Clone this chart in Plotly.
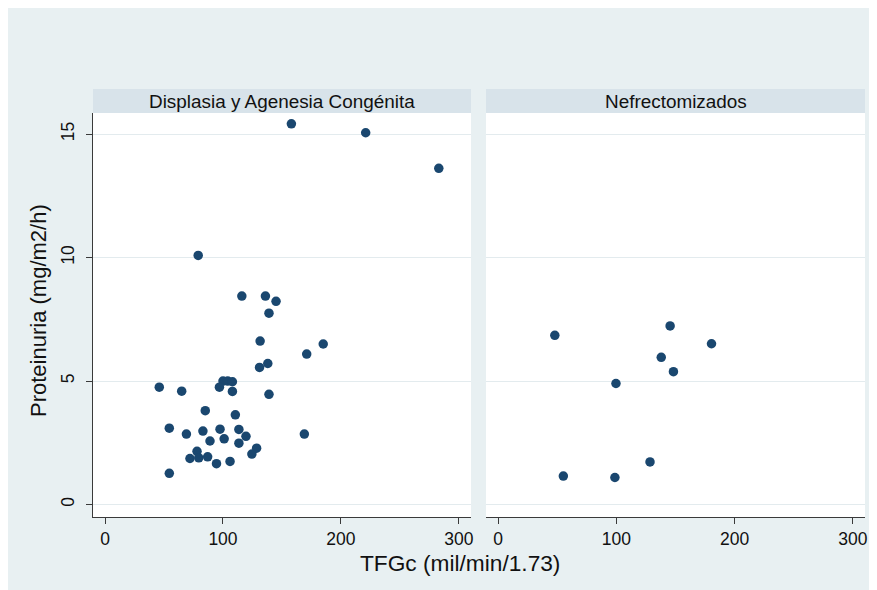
import plotly.graph_objects as go

# ---- data ----
panel_titles = ["Displasia y Agenesia Congénita", "Nefrectomizados"]

left_x = [116, 136, 145, 139, 131.5, 185, 171, 138, 131, 100, 104, 108, 97, 108,
          46, 65, 139, 85, 110.5, 54.5, 69, 83, 97.5, 113.5, 119.5, 101, 89, 113.5,
          169, 128.5, 124.5, 78, 72, 79.5, 87, 94.5, 106, 54.5, 158, 221, 283, 79]
left_y = [8.44, 8.44, 8.23, 7.75, 6.62, 6.50, 6.09, 5.71, 5.55, 5.0, 5.0, 4.97, 4.75, 4.58,
          4.75, 4.59, 4.46, 3.80, 3.63, 3.09, 2.85, 2.97, 3.05, 3.04, 2.76, 2.66, 2.57, 2.48,
          2.85, 2.28, 2.04, 2.15, 1.86, 1.89, 1.93, 1.65, 1.74, 1.26, 15.42, 15.06, 13.62, 10.09]

right_x = [48, 145.5, 180.5, 138, 148.3, 99.7, 128.5, 55.2, 98.8]
right_y = [6.85, 7.23, 6.51, 5.96, 5.38, 4.9, 1.72, 1.15, 1.09]

x_ticks = [0, 100, 200, 300]
y_ticks = [0, 5, 10, 15]
x_title = "TFGc (mil/min/1.73)"
y_title = "Proteinuria (mg/m2/h)"

# ---- style ----
OFF = 8  # page body margin
W, H = 877, 590  # extends past the window edge, like the reference background
ML, MT = 93 - OFF, 89 - OFF
MR = W - (865 - OFF)
MB = H - (517 - OFF)
PW, PH = W - ML - MR, H - MT - MB
BG = "#e8f0f2"
STRIP = "#d8e3ea"
GRID = "#e3ebee"
NAVY = "#1a476f"
AXIS = "#3a3a3a"
FONT = "Arial, Liberation Sans, sans-serif"

def px_x(p):  # screen pixel -> paper x
    return (p - OFF - ML) / PW

def px_y(p):  # screen pixel -> paper y
    return (H - MB - (p - OFF)) / PH

dom_left = [0, px_x(471)]
dom_right = [px_x(486), 1]
strip_bottom = px_y(113)

fig = go.Figure()
fig.add_trace(go.Scatter(x=left_x, y=left_y, mode="markers", xaxis="x", yaxis="y",
                         marker=dict(color=NAVY, size=9.5), showlegend=False))
fig.add_trace(go.Scatter(x=right_x, y=right_y, mode="markers", xaxis="x2", yaxis="y2",
                         marker=dict(color=NAVY, size=9.5), showlegend=False))

xcommon = dict(range=[-10.2, 310.3], tickvals=x_ticks, ticks="outside", ticklen=6,
               tickcolor=AXIS, showline=True, linecolor=AXIS, linewidth=1,
               showgrid=False, zeroline=False,
               tickfont=dict(family=FONT, size=17.5, color="#111"))
ycommon = dict(range=[-0.51, 15.86], tickvals=y_ticks, showgrid=True, gridcolor=GRID,
               gridwidth=1, zeroline=False, domain=[0, strip_bottom])

fig.update_layout(
    width=W, height=H,
    margin=dict(l=ML, r=MR, t=MT, b=MB),
    paper_bgcolor=BG, plot_bgcolor="white",
    xaxis=dict(domain=dom_left, anchor="y", **xcommon),
    xaxis2=dict(domain=dom_right, anchor="y2", **xcommon),
    yaxis=dict(anchor="x", ticks="outside", ticklen=6, tickcolor=AXIS,
               showline=True, linecolor=AXIS, linewidth=1, tickangle=-90,
               ticklabelstandoff=5,
               tickfont=dict(family=FONT, size=17.5, color="#111"), **ycommon),
    yaxis2=dict(anchor="x2", showticklabels=False, showline=False, ticks="", **ycommon),
    showlegend=False,
)

shapes = [
    dict(type="rect", xref="paper", yref="paper", x0=dom_left[0], x1=dom_left[1],
         y0=strip_bottom, y1=1, fillcolor=STRIP, line_width=0),
    dict(type="rect", xref="paper", yref="paper", x0=dom_right[0], x1=dom_right[1],
         y0=strip_bottom, y1=1, fillcolor=STRIP, line_width=0),
]
fig.update_layout(shapes=shapes)

annotations = [
    dict(text=panel_titles[0], xref="paper", yref="paper", x=(dom_left[0] + dom_left[1]) / 2,
         y=(strip_bottom + 1) / 2, xanchor="center", yanchor="middle", showarrow=False,
         font=dict(family=FONT, size=18.9, color="#111")),
    dict(text=panel_titles[1], xref="paper", yref="paper", x=(dom_right[0] + dom_right[1]) / 2,
         y=(strip_bottom + 1) / 2, xanchor="center", yanchor="middle", showarrow=False,
         font=dict(family=FONT, size=18.9, color="#111")),
    dict(text=x_title, xref="paper", yref="paper", x=px_x(460), y=px_y(563),
         xanchor="center", yanchor="middle", showarrow=False,
         font=dict(family=FONT, size=22.7, color="#111")),
    dict(text=y_title, xref="paper", yref="paper", x=px_x(38), y=px_y(311),
         xanchor="center", yanchor="middle", showarrow=False, textangle=-90,
         font=dict(family=FONT, size=22, color="#111")),
]
fig.update_layout(annotations=annotations)

fig.write_html("out.html",
               post_script="document.body.style.overflow='hidden';"
                           "document.documentElement.style.overflow='hidden';")
